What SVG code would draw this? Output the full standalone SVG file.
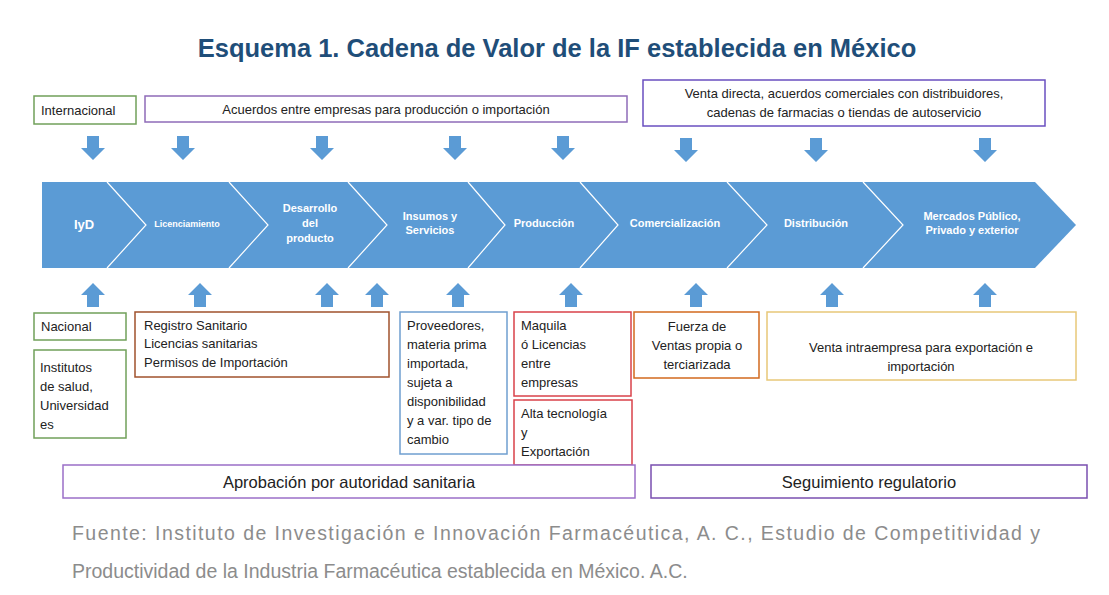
<svg xmlns="http://www.w3.org/2000/svg" width="1109" height="595" viewBox="0 0 1109 595">
<defs>
<style>
.t{font-family:"Liberation Sans",Arial,sans-serif;font-size:13px;fill:#222}
.w{font-family:"Liberation Sans",Arial,sans-serif;font-size:11px;font-weight:bold;fill:#fff;text-anchor:middle}
.box{fill:#fff;stroke-width:1.5}
.arr{fill:#5b9bd5}
.div{fill:none;stroke:#fff;stroke-width:1.2}
.f{font-family:"Liberation Sans",Arial,sans-serif;font-size:19.5px;fill:#8c8c8c}
</style>
<path id="down" class="arr" d="M-6,-12 h12 v12 h6 l-12,12 l-12,-12 h6 z"/>
<path id="up" class="arr" d="M-6,12 h12 v-12 h6 l-12,-12 l-12,12 h6 z"/>
</defs>
<rect width="1109" height="595" fill="#fff"/>
<text x="557" y="57" text-anchor="middle" font-family="Liberation Sans,Arial,sans-serif" font-size="25.5" font-weight="bold" fill="#1f4e79">Esquema 1. Cadena de Valor de la IF establecida en México</text>
<g id="band">
<path d="M42,182 H1035 L1076,225 L1035,268 H42 Z" fill="#5b9bd5"/>
<path class="div" d="M107,182 L146,225 L107,268 M229,182 L268,225 L229,268 M348,182 L387,225 L348,268 M468,182 L505,225 L468,268 M580,182 L618,225 L580,268 M727,182 L767,225 L727,268 M863,182 L903,225 L863,268"/>
<text class="w" x="84" y="229" style="font-size:13px">IyD</text>
<text class="w" x="187" y="227" style="font-size:9px">Licenciamiento</text>
<text class="w" x="310" y="212">Desarrollo</text><text class="w" x="310" y="227">del</text><text class="w" x="310" y="242">producto</text>
<text class="w" x="430" y="220">Insumos y</text><text class="w" x="430" y="234">Servicios</text>
<text class="w" x="544" y="227">Producción</text>
<text class="w" x="675" y="227">Comercialización</text>
<text class="w" x="816" y="227">Distribución</text>
<text class="w" x="972" y="220">Mercados Público,</text><text class="w" x="972" y="234">Privado  y exterior</text>
</g>
<g id="connectors">
<use href="#down" x="93" y="148"/><use href="#down" x="183" y="148"/><use href="#down" x="322" y="148"/><use href="#down" x="455" y="148"/><use href="#down" x="563" y="148"/><use href="#down" x="686" y="150"/><use href="#down" x="816" y="150"/><use href="#down" x="985" y="150"/>
<use href="#up" x="93" y="295"/><use href="#up" x="200" y="295"/><use href="#up" x="327" y="295"/><use href="#up" x="377" y="295"/><use href="#up" x="458" y="295"/><use href="#up" x="571" y="295"/><use href="#up" x="696" y="295"/><use href="#up" x="832" y="295"/><use href="#up" x="985" y="295"/>
</g>
<g id="internacional"><rect class="box" x="34" y="96" width="102" height="28" stroke="#70a05a"/><text class="t" x="41" y="115">Internacional</text></g>
<g id="acuerdos"><rect class="box" x="145" y="96" width="482" height="26" stroke="#8e6bb8"/><text class="t" x="386" y="114" text-anchor="middle">Acuerdos entre empresas para producción o importación</text></g>
<g id="venta"><rect class="box" x="643" y="80" width="402" height="46" stroke="#6a4fc0"/><text class="t" x="844" y="98" text-anchor="middle">Venta directa, acuerdos  comerciales con distribuidores,</text><text class="t" x="844" y="117" text-anchor="middle">cadenas de farmacias o tiendas de autoservicio</text></g>
<g id="nacional"><rect class="box" x="34" y="313" width="92" height="27" stroke="#70a05a"/><text class="t" x="41" y="331">Nacional</text></g>
<g id="institutos"><rect class="box" x="34" y="350" width="92" height="88" stroke="#70a05a"/><text class="t" x="40" y="372">Institutos</text><text class="t" x="40" y="391">de salud,</text><text class="t" x="40" y="410">Universidad</text><text class="t" x="40" y="429">es</text></g>
<g id="registro"><rect class="box" x="135" y="312" width="254" height="65" stroke="#a0522d"/><text class="t" x="144" y="330">Registro Sanitario</text><text class="t" x="144" y="348">Licencias sanitarias</text><text class="t" x="144" y="367">Permisos de Importación</text></g>
<g id="proveedores"><rect class="box" x="400" y="312" width="107" height="142" stroke="#6f9fd0"/><text class="t" x="407" y="330">Proveedores,</text><text class="t" x="407" y="349">materia prima</text><text class="t" x="407" y="368">importada,</text><text class="t" x="407" y="387">sujeta a</text><text class="t" x="407" y="406">disponibilidad</text><text class="t" x="407" y="425">y a var. tipo de</text><text class="t" x="407" y="444">cambio</text></g>
<g id="maquila"><rect class="box" x="514" y="312" width="117" height="84" stroke="#d9424a"/><text class="t" x="521" y="330">Maquila</text><text class="t" x="521" y="349">ó Licencias</text><text class="t" x="521" y="368"> entre</text><text class="t" x="521" y="387">empresas</text></g>
<g id="alta"><rect class="box" x="514" y="400" width="118" height="65" stroke="#d9424a"/><text class="t" x="521" y="418">Alta tecnología</text><text class="t" x="521" y="437">y</text><text class="t" x="521" y="456">Exportación</text></g>
<g id="fuerza"><rect class="box" x="634" y="312" width="125" height="66" stroke="#d2691e"/><text class="t" x="697" y="331" text-anchor="middle">Fuerza de</text><text class="t" x="697" y="350" text-anchor="middle">Ventas propia o</text><text class="t" x="697" y="369" text-anchor="middle">terciarizada</text></g>
<g id="intraempresa"><rect class="box" x="767" y="312" width="309" height="68" stroke="#e8c878"/><text class="t" x="921" y="352" text-anchor="middle">Venta intraempresa para exportación e</text><text class="t" x="921" y="371" text-anchor="middle">importación</text></g>
<g id="aprobacion"><rect class="box" x="63" y="465" width="572" height="33" stroke="#9b6fc8"/><text class="t" x="349" y="488" text-anchor="middle" style="font-size:16.5px">Aprobación por autoridad sanitaria</text></g>
<g id="seguimiento"><rect class="box" x="651" y="465" width="436" height="33" stroke="#7a4fb0"/><text class="t" x="869" y="488" text-anchor="middle" style="font-size:16.5px">Seguimiento regulatorio</text></g>
<text class="f" x="72" y="540" textLength="968" lengthAdjust="spacing">Fuente: Instituto de Investigación e Innovación Farmacéutica, A. C., Estudio de Competitividad  y</text>
<text class="f" x="72" y="578">Productividad  de la Industria Farmacéutica establecida en México. A.C.</text>
</svg>
